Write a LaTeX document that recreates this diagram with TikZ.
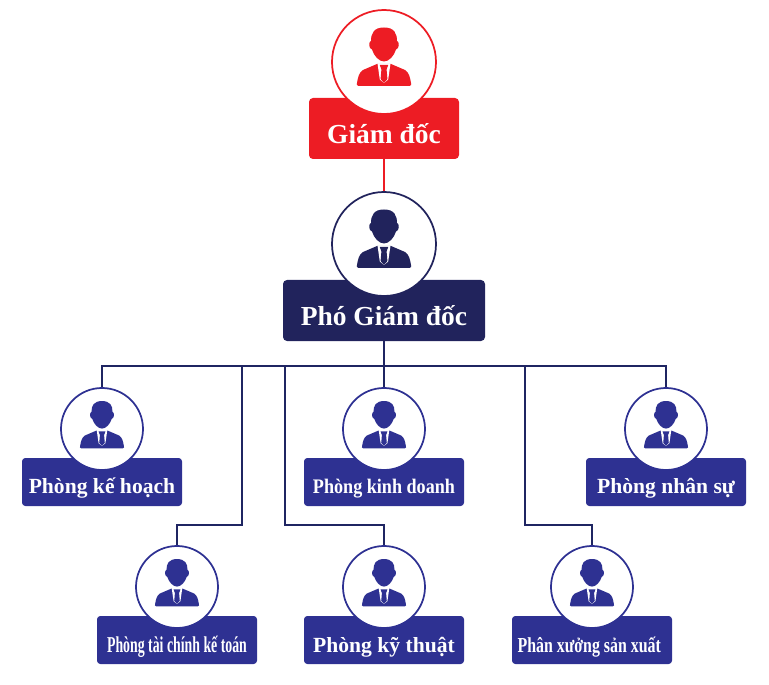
\documentclass[tikz,border=0pt]{standalone}
\usepackage{xcolor}
\usepackage{graphicx}
\usepackage{fontspec}
\setmainfont{Liberation Serif}
\usepackage{tikz}
\usetikzlibrary{calc}
\definecolor{directorColor}{RGB}{237, 28, 36}
\definecolor{deputyColor}{RGB}{33, 35, 92}
\definecolor{deptColor}{RGB}{46, 49, 146}
\definecolor{lineColor}{RGB}{31, 37, 98}
% label sitting below the middle of its box
\newcommand{\boxText}[2]{\raisebox{-#1}[0pt][0pt]{#2}}
\tikzset{
    pics/personIcon/.style={code={
        % shoulders, collar and tie
        \fill[#1] (-25.5,24) .. controls (-27.5,24) and (-27.5,22) .. (-27,21) .. controls (-26,15) and (-25,10.5) .. (-21,8) -- (-7,2) -- (7,2) -- (21,8) .. controls (25,10.5) and (26,15) .. (27,21) .. controls (27.5,22) and (27.5,24) .. (25.5,24) -- cycle;
        \fill[white] (-6.5,1.5) -- (-4.2,17.5) -- (0,21) -- (4.2,17.5) -- (6.5,1.5) -- cycle;
        \fill[#1] (-4.2,3) -- (4.2,3) -- (2.6,7.5) -- (3.4,17) -- (0,21) -- (-3.4,17) -- (-2.6,7.5) -- cycle;
        % head with ears
        \fill[#1] (0,-34.5) .. controls (-10,-34.5) and (-13,-29) .. (-13,-21) .. controls (-15.5,-21) and (-15.5,-13) .. (-12,-12.5) .. controls (-10,-6) and (-5,-0.5) .. (0,-0.5) .. controls (5,-0.5) and (10,-6) .. (12,-12.5) .. controls (15.5,-13) and (15.5,-21) .. (13,-21) .. controls (13,-29) and (10,-34.5) .. (0,-34.5) -- cycle;
    }},
    titleBox/.style={fill=#1, rounded corners=3pt, minimum height=45.75pt, inner sep=0pt, text=white, font=\fontsize{20.6}{24}\bfseries},
    deptBox/.style={fill=deptColor, rounded corners=2.5pt, minimum width=120pt, minimum height=36pt, inner sep=0pt, text=white, font=\fontsize{16.2}{19}\bfseries},
    bigPortrait/.style={circle, draw=#1, line width=1.3pt, fill=white, minimum size=78pt, inner sep=0pt},
    smallPortrait/.style={circle, draw=deptColor, line width=1.3pt, fill=white, minimum size=61.5pt, inner sep=0pt},
    redLine/.style={draw=directorColor, line width=1.2pt},
    treeLine/.style={draw=lineColor, line width=1.5pt}
}
\begin{document}
\begin{tikzpicture}[x=0.75pt, y=-0.75pt]
    \useasboundingbox (0,0) rectangle (769,685);

    % Director
    \node[titleBox=directorColor, minimum width=112.5pt] (directorBox) at (384,128.5) {\boxText{10.9pt}{Giám đốc}};
    \node[bigPortrait=directorColor] (directorPic) at (384,62) {};
    \pic at (384,62) {personIcon=directorColor};

    % Deputy director
    \node[titleBox=deputyColor, minimum width=151.5pt] (deputyBox) at (384,310.5) {\boxText{10.9pt}{Phó Giám đốc}};
    \node[bigPortrait=deputyColor] (deputyPic) at (384,244) {};
    \pic at (384,244) {personIcon=deputyColor};

    % Departments
    \foreach \deptName/\cx/\cy/\lift/\deptText in {
        plan/102/429/8.25pt/{Phòng kế hoạch},
        finance/177/587/9pt/{\fontsize{17}{20}\selectfont\scalebox{0.61}[1]{Phòng tài chính kế toán}},
        sales/384/429/8.25pt/{\fontsize{15.5}{18}\selectfont\scalebox{0.877}[1]{Phòng kinh doanh}},
        tech/384/587/9pt/{Phòng kỹ thuật},
        staff/666/429/8.25pt/{Phòng nhân sự},
        plant/592/587/9pt/{\fontsize{16}{19}\selectfont\scalebox{0.745}[1]{Phân xưởng sản xuất}}
    }{
        \node[deptBox] (\deptName Box) at (\cx,\cy+53) {\boxText{\lift}{\deptText}};
        \node[smallPortrait] (\deptName Pic) at (\cx,\cy) {};
        \pic[scale=0.81] at (\cx,\cy) {personIcon=deptColor};
    }

    % Connector points on the bus
    \coordinate (bus) at (384,366);
    \coordinate (financeDrop) at (242,366);
    \coordinate (financeElbow) at (242,525);
    \coordinate (techDrop) at (285,366);
    \coordinate (techElbow) at (285,525);
    \coordinate (plantDrop) at (525,366);
    \coordinate (plantElbow) at (525,525);

    % Connectors
    \draw[redLine] (directorBox.south) -- (deputyPic.north);
    \draw[treeLine] (deputyBox.south) -- (bus);
    \draw[treeLine] (bus) -| (planPic.north);
    \draw[treeLine] (bus) -| (staffPic.north);
    \draw[treeLine] (bus) -- (salesPic.north);
    \draw[treeLine] (financeDrop) -- (financeElbow) -| (financePic.north);
    \draw[treeLine] (techDrop) -- (techElbow) -| (techPic.north);
    \draw[treeLine] (plantDrop) -- (plantElbow) -| (plantPic.north);
\end{tikzpicture}
\end{document}
